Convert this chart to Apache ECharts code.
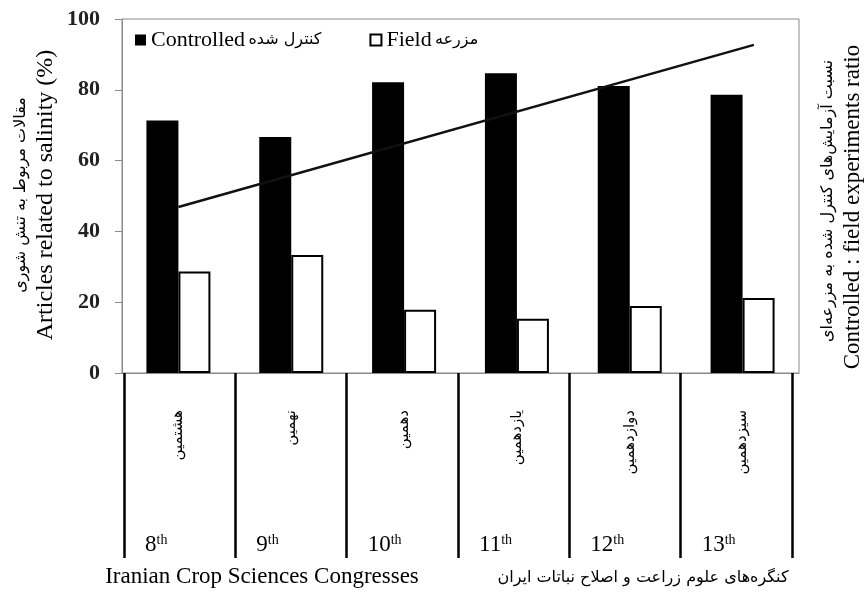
<!DOCTYPE html>
<html>
<head>
<meta charset="utf-8">
<script src="https://cdn.jsdelivr.net/npm/echarts@6/dist/echarts.min.js"></script>
<style>
html,body{margin:0;padding:0;background:#fff;}
#chart{width:864px;height:594px;}
</style>
</head>
<body>
<div id="chart"></div>
<script>
// ---- data ----
var categoriesFa = ['هشتمین', 'نهمین', 'دهمین', 'یازدهمین', 'دوازدهمین', 'سیزدهمین'];
var ordinals = ['8', '9', '10', '11', '12', '13'];
var controlled = [71.3, 66.7, 82.1, 84.7, 81.1, 78.6];
var field = [28.7, 33.3, 17.9, 15.3, 18.9, 21.2];
var trendX = [0.5, 5.6];
var trendY = [46.9, 92.7];
var yTicks = [0, 20, 40, 60, 80, 100];

var serif = "'Liberation Serif', 'Times New Roman', serif";
var fa = "'DejaVu Sans', 'Noto Sans', sans-serif";

var chart = echarts.init(document.getElementById('chart'));
var trendData = trendX.map(function (x, i) { return [x, trendY[i]]; });

chart.setOption({
  animation: false,
  backgroundColor: '#fff',
  grid: [
    { left: 122, right: 65, top: 19, bottom: 221, show: true, borderColor: '#8a8a8a', borderWidth: 1, backgroundColor: 'transparent' },
    { left: 124, right: 72, top: 19, bottom: 221, show: false }
  ],
  legend: {
    left: 130, top: 24,
    itemWidth: 11, itemHeight: 11, itemGap: 48,
    icon: 'rect',
    data: ['Controlled', 'Field'],
    formatter: function (name) {
      return name === 'Controlled' ? '{en|Controlled} {fa|کنترل شده}' : '{en|Field} {fa|مزرعه}';
    },
    textStyle: {
      color: '#000',
      rich: {
        en: { fontFamily: serif, fontSize: 22, color: '#000' },
        fa: { fontFamily: fa, fontSize: 16, color: '#000' }
      }
    }
  },
  xAxis: [
    {
      type: 'category', gridIndex: 0, data: categoriesFa,
      axisLine: { show: true, lineStyle: { color: '#8a8a8a', width: 1 } },
      axisTick: { show: false },
      axisLabel: { rotate: 90, margin: 37, fontFamily: fa, fontSize: 15, color: '#000' }
    },
    { type: 'value', gridIndex: 0, min: 0, max: 6, show: false },
    {
      type: 'value', gridIndex: 1, min: 0, max: 6, interval: 1,
      axisLine: { show: false },
      splitLine: { show: false },
      axisTick: { show: true, length: 185, lineStyle: { color: '#000', width: 2.5 } },
      axisLabel: {
        margin: 160, align: 'left', padding: [0, 0, 0, 21],
        formatter: function (v) {
          var i = Math.round(v);
          return i < ordinals.length ? '{n|' + ordinals[i] + '}{s|th}' : '';
        },
        rich: {
          n: { fontFamily: serif, fontSize: 23, color: '#000' },
          s: { fontFamily: serif, fontSize: 14, color: '#000', verticalAlign: 'top' }
        }
      }
    }
  ],
  yAxis: [
    {
      type: 'value', gridIndex: 0, min: 0, max: 100, interval: 20,
      axisLine: { show: true, lineStyle: { color: '#8a8a8a', width: 1 } },
      axisTick: { show: true, length: 7, lineStyle: { color: '#8a8a8a' } },
      splitLine: { show: false },
      axisLabel: {
        margin: 22, fontFamily: serif, fontSize: 22, fontWeight: 'bold', color: '#222',
        formatter: function (v) { return yTicks.indexOf(v) >= 0 ? String(v) : ''; }
      }
    },
    { type: 'value', gridIndex: 1, min: 0, max: 100, show: false }
  ],
  series: [
    {
      name: 'Controlled', type: 'bar', xAxisIndex: 0, yAxisIndex: 0,
      data: controlled, barWidth: 32, barGap: '0%',
      itemStyle: { color: '#000' }
    },
    {
      name: 'Field', type: 'bar', xAxisIndex: 0, yAxisIndex: 0,
      data: field, barWidth: 32, barGap: '0%',
      itemStyle: { color: '#fff', borderColor: '#000', borderWidth: 2 }
    },
    {
      name: 'trend', type: 'line', xAxisIndex: 1, yAxisIndex: 0,
      data: trendData, showSymbol: false, symbol: 'none',
      lineStyle: { color: '#111', width: 2.5 }, z: 5
    }
  ],
  graphic: [
    { type: 'text', x: 21, y: 195, rotation: Math.PI / 2,
      style: { text: 'مقالات مربوط به تنش شوری', fontFamily: fa, fontSize: 16, fill: '#000', align: 'center', verticalAlign: 'middle' } },
    { type: 'text', x: 46, y: 195, rotation: Math.PI / 2,
      style: { text: 'Articles related to salinity (%)', fontFamily: serif, fontSize: 24, fill: '#000', align: 'center', verticalAlign: 'middle' } },
    { type: 'text', x: 828, y: 201, rotation: Math.PI / 2,
      style: { text: 'نسبت آزمایش‌های کنترل شده به مزرعه‌ای', fontFamily: fa, fontSize: 16, fill: '#000', align: 'center', verticalAlign: 'middle' } },
    { type: 'text', x: 853, y: 207, rotation: Math.PI / 2,
      style: { text: 'Controlled : field experiments ratio', fontFamily: serif, fontSize: 23, fill: '#000', align: 'center', verticalAlign: 'middle' } },
    { type: 'text', x: 262, y: 577,
      style: { text: 'Iranian Crop Sciences Congresses', fontFamily: serif, fontSize: 23, fill: '#000', align: 'center', verticalAlign: 'middle' } },
    { type: 'text', x: 643, y: 578,
      style: { text: 'کنگره‌های علوم زراعت و اصلاح نباتات ایران', fontFamily: fa, fontSize: 16, fill: '#000', align: 'center', verticalAlign: 'middle' } }
  ]
});
</script>
</body>
</html>
